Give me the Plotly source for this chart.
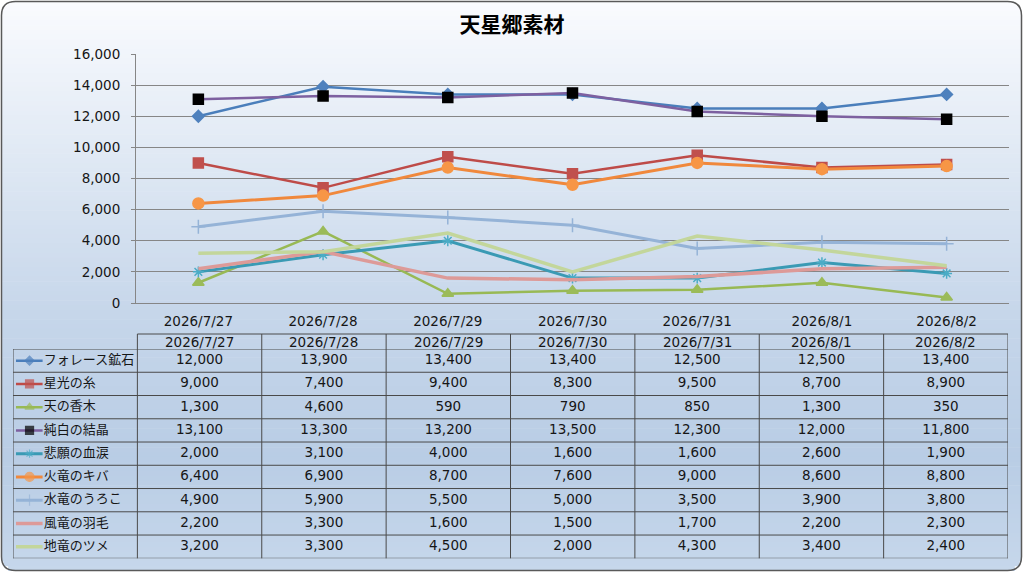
import plotly.graph_objects as go

W, H = 1024, 573

dates = ["2026/7/27", "2026/7/28", "2026/7/29", "2026/7/30", "2026/7/31", "2026/8/1", "2026/8/2"]

names = ["フォレース鉱石", "星光の糸", "天の香木", "純白の結晶", "悲願の血涙",
         "火竜のキバ", "水竜のうろこ", "風竜の羽毛", "地竜のツメ"]

forest_ore = [12000, 13900, 13400, 13400, 12500, 12500, 13400]
starlight_thread = [9000, 7400, 9400, 8300, 9500, 8700, 8900]
heaven_wood = [1300, 4600, 590, 790, 850, 1300, 350]
pure_crystal = [13100, 13300, 13200, 13500, 12300, 12000, 11800]
wish_tears = [2000, 3100, 4000, 1600, 1600, 2600, 1900]
fire_fang = [6400, 6900, 8700, 7600, 9000, 8600, 8800]
water_scale = [4900, 5900, 5500, 5000, 3500, 3900, 3800]
wind_feather = [2200, 3300, 1600, 1500, 1700, 2200, 2300]
earth_claw = [3200, 3300, 4500, 2000, 4300, 3400, 2400]

series = [forest_ore, starlight_thread, heaven_wood, pure_crystal, wish_tears,
          fire_fang, water_scale, wind_feather, earth_claw]

# line colour, marker colour, symbol, marker size, line width
styles = [
    ("#4a7ebb", "#4f81bd", "diamond", 9, 2.5),
    ("#be4b48", "#c0504d", "square", 10, 2.5),
    ("#98b954", "#9bbb59", "triangle-up", 10, 2.5),
    ("#7d60a0", "#000000", "square", 10, 2.5),
    ("#3a9ab4", "#4bacc6", "asterisk-open", 9, 3),
    ("#f0883c", "#f79646", "circle", 11, 3),
    ("#95b3d7", "#95b3d7", "cross-thin-open", 10, 3),
    ("#dd9a98", None, None, 0, 3.5),
    ("#c3d69b", None, None, 0, 3.5),
]

FONT = "DejaVu Sans, Noto Sans CJK JP"
TXT = "#161616"
FS = 13.5


def px(x):
    return x / W


def py(y):
    return 1 - y / H


fig = go.Figure()

# chart lines
for name, vals, (lc, mc, sym, ms, lw) in zip(names, series, styles):
    if sym:
        marker = dict(symbol=sym, size=ms, color=mc, line=dict(color=mc, width=1.5))
        mode = "lines+markers"
    else:
        marker = None
        mode = "lines"
    fig.add_trace(go.Scatter(x=list(range(len(dates))), y=vals, mode=mode, name=name,
                             line=dict(color=lc, width=lw), marker=marker,
                             showlegend=False, hoverinfo="skip"))

# data table: legend keys, labels and values
rows = list(range(1, len(names) + 1))
for r, (lc, mc, sym, ms, lw) in zip(rows, styles):
    kx = [-1.476, -1.367, -1.262]
    if sym:
        fig.add_trace(go.Scatter(x=kx, y=[r, r, r], mode="lines+markers", xaxis="x2", yaxis="y2",
                                 line=dict(color=lc, width=lw),
                                 marker=dict(symbol=sym, size=[0, ms - 2, 0], color=mc,
                                             line=dict(color=mc, width=1.2)),
                                 showlegend=False, hoverinfo="skip"))
    else:
        fig.add_trace(go.Scatter(x=kx, y=[r, r, r], mode="lines", xaxis="x2", yaxis="y2",
                                 line=dict(color=lc, width=lw),
                                 showlegend=False, hoverinfo="skip"))

fig.add_trace(go.Scatter(x=[-1.252] * len(names), y=rows, mode="text", text=names,
                         textposition="middle right", xaxis="x2", yaxis="y2",
                         textfont=dict(family="Noto Sans CJK JP", size=13, color=TXT),
                         showlegend=False, hoverinfo="skip"))

for r, vals in zip(rows, series):
    fig.add_trace(go.Scatter(x=list(range(len(dates))), y=[r] * len(vals), mode="text",
                             text=[f"{v:,}" for v in vals], xaxis="x2", yaxis="y2",
                             textfont=dict(family=FONT, size=FS, color=TXT),
                             showlegend=False, hoverinfo="skip"))

annotations = []
for i, d in enumerate(dates):
    annotations.append(dict(x=i, y=py(341.5), xref="x2", yref="paper", text=d,
                            showarrow=False, font=dict(family=FONT, size=FS, color=TXT)))

shapes = []

# vertical gradient background, clipped to rounded border
stops = [(0.0, (250, 251, 254)), (0.3, (221, 231, 243)), (0.55, (198, 214, 234)),
         (0.8, (185, 205, 229)), (1.0, (198, 215, 235))]


def grad(t):
    for (t0, c0), (t1, c1) in zip(stops, stops[1:]):
        if t <= t1:
            f = (t - t0) / (t1 - t0)
            return "rgb(%d,%d,%d)" % tuple(round(a + (b - a) * f) for a, b in zip(c0, c1))
    return "rgb(%d,%d,%d)" % stops[-1][1]


top, bot, left, right, rad = 1.5, 570.5, 1.5, 1021.5, 14
n = 120
step = (bot - top) / n
for k in range(n):
    y0 = top + k * step
    y1 = y0 + step + 0.6
    ym = (y0 + y1) / 2
    inset = 0
    if ym < top + rad:
        dy = top + rad - ym
        inset = rad - (rad ** 2 - min(dy, rad) ** 2) ** 0.5
    elif ym > bot - rad:
        dy = ym - (bot - rad)
        inset = rad - (rad ** 2 - min(dy, rad) ** 2) ** 0.5
    shapes.append(dict(type="rect", xref="paper", yref="paper", layer="below",
                       x0=px(left + inset), x1=px(right - inset), y0=py(y1), y1=py(y0),
                       fillcolor=grad((ym - top) / (bot - top)), line=dict(width=0)))

border = (f"M {px(left + rad)},{py(top)} L {px(right - rad)},{py(top)} "
          f"Q {px(right)},{py(top)} {px(right)},{py(top + rad)} "
          f"L {px(right)},{py(bot - rad)} Q {px(right)},{py(bot)} {px(right - rad)},{py(bot)} "
          f"L {px(left + rad)},{py(bot)} Q {px(left)},{py(bot)} {px(left)},{py(bot - rad)} "
          f"L {px(left)},{py(top + rad)} Q {px(left)},{py(top)} {px(left + rad)},{py(top)} Z")
shapes.append(dict(type="path", xref="paper", yref="paper", path=border, layer="above",
                   line=dict(color="#595959", width=1.5)))

# table grid
tcol = "#4a4a4a"
t_top, t_head, t_bot = py(334), py(349), py(558.3)
for b in [r - 0.5 for r in rows] + [len(rows) + 0.5]:
    shapes.append(dict(type="line", xref="x2", yref="y2", x0=-1.5, x1=6.5, y0=b, y1=b,
                       line=dict(color=tcol, width=1)))
shapes.append(dict(type="line", xref="x2", yref="paper", x0=-0.5, x1=6.5, y0=t_top, y1=t_top,
                   line=dict(color=tcol, width=1)))
shapes.append(dict(type="line", xref="x2", yref="paper", x0=-1.5, x1=-1.5, y0=t_head, y1=t_bot,
                   line=dict(color=tcol, width=1)))
for c in range(len(dates) + 1):
    shapes.append(dict(type="line", xref="x2", yref="paper", x0=c - 0.5, x1=c - 0.5,
                       y0=t_top, y1=t_bot, line=dict(color=tcol, width=1)))

fig.update_layout(
    width=W, height=H,
    margin=dict(l=0, r=0, t=0, b=0, pad=0, autoexpand=False),
    paper_bgcolor="white", plot_bgcolor="white",
    font=dict(family=FONT, size=FS, color=TXT),
    title=dict(text="<b>天星郷素材</b>", x=0.5, xanchor="center", y=py(25), yanchor="middle",
               yref="container", automargin=False,
               font=dict(family="Noto Sans CJK JP", size=21, color="#000000")),
    xaxis=dict(domain=[px(136), px(1009)], range=[-0.5, 6.5], tickvals=list(range(len(dates))),
               ticktext=dates, showgrid=False, showline=True, linecolor="#868686", linewidth=1,
               ticks="", zeroline=False, ticklabelstandoff=6, automargin=False,
               tickfont=dict(family=FONT, size=FS, color=TXT)),
    yaxis=dict(domain=[py(303), py(54)], range=[0, 16000], dtick=2000, tickformat=",",
               showgrid=True, gridcolor="#868686", gridwidth=1, showline=True,
               linecolor="#868686", ticks="outside", ticklen=4, tickcolor="#868686",
               zeroline=False, ticklabelstandoff=8, automargin=False,
               tickfont=dict(family=FONT, size=FS, color=TXT)),
    xaxis2=dict(domain=[px(13), px(1008)], range=[-1.5, 6.5], visible=False, anchor="y2",
                automargin=False),
    yaxis2=dict(domain=[py(558.3), py(349)], range=[len(rows) + 0.5, 0.5], visible=False,
                anchor="x2", automargin=False),
    shapes=shapes,
    annotations=annotations,
)

# drop the default page margin so the figure sits at the window's top-left corner
fig.write_html("out.html", config={"displayModeBar": False},
               post_script="document.body.style.margin='0';")
